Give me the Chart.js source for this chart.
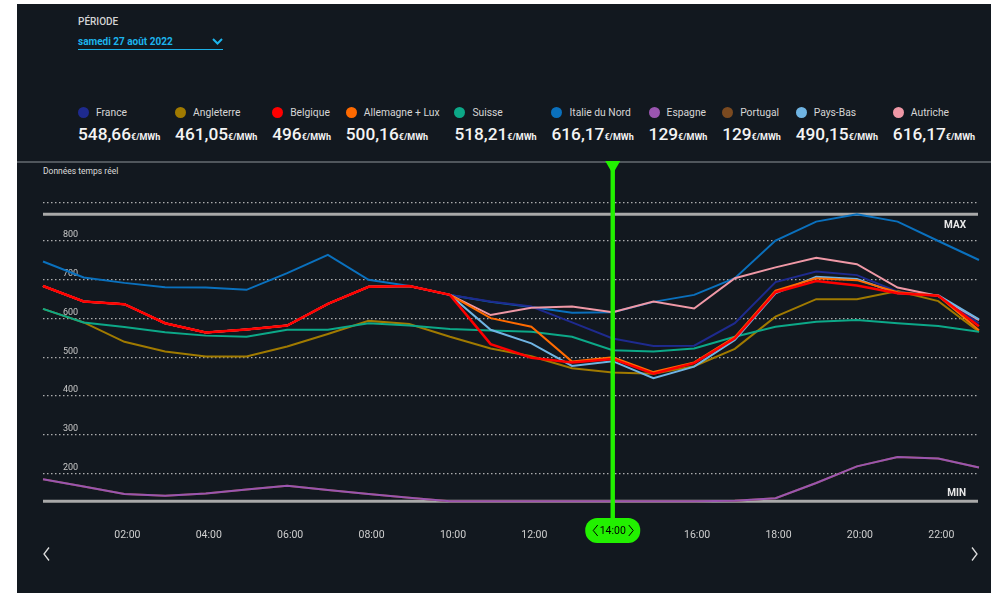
<!DOCTYPE html>
<html>
<head>
<meta charset="utf-8">
<script src="https://cdn.jsdelivr.net/npm/chart.js@4.4.0/dist/chart.umd.min.js"></script>
<style>
  html, body { margin: 0; padding: 0; background: #ffffff; }
  body { width: 991px; height: 593px; position: relative; overflow: hidden; font-family: Roboto, "Noto Sans", sans-serif; }
  #panel { position: absolute; left: 17px; top: 4px; width: 974px; height: 589px; background: #12181f; }
  #periodLabel { position: absolute; left: 78px; top: 16px; font-size: 10px; line-height: 12px; color: #d4d4d4; font-weight: 500; }
  #period { position: absolute; left: 78px; top: 34px; width: 145px; height: 15px; line-height: 15px; font-size: 10px; font-weight: 700; color: #1cb4ec; border-bottom: 1px solid #1cb0e6; }
  #period svg { position: absolute; right: 0px; top: 4px; }
  #legend { position: absolute; left: 78px; top: 104px; display: flex; gap: 14.8px; }
  .item .name { height: 16px; display: flex; align-items: center; font-size: 10.3px; color: #d6d6d6; }
  .item .dot { width: 11px; height: 11px; border-radius: 50%; margin-right: 7px; }
  .item .val { margin-top: 3.5px; white-space: nowrap; color: #f4f4f4; }
  .item .v { font-size: 17.3px; font-weight: 500; line-height: 20px; }
  .item .u { font-size: 9px; font-weight: 700; }
  #sep { position: absolute; left: 17px; top: 161px; width: 974px; height: 1.5px; background: #50565c; }
  #rt { position: absolute; left: 43px; top: 165.5px; font-size: 8.5px; line-height: 10px; color: #dcdcdc; }
  #c { position: absolute; left: 17px; top: 150px; }
  .arrow { position: absolute; }
</style>
</head>
<body>
<div id="panel"></div>
<div id="periodLabel">PÉRIODE</div>
<div id="period">samedi 27 août 2022
  <svg width="11" height="7"><polyline points="1,1 5.5,5.5 10,1" fill="none" stroke="#1cb4ec" stroke-width="2"/></svg>
</div>
<div id="legend"></div>
<div id="sep"></div>
<div id="rt">Données temps réel</div>
<canvas id="c" width="979" height="443"></canvas>
<svg class="arrow" style="left:42px;top:546px" width="10" height="16"><polyline points="7,1.5 2,8 7,14.5" fill="none" stroke="#dddddd" stroke-width="1.3"/></svg>
<svg class="arrow" style="left:970px;top:546px" width="10" height="16"><polyline points="2,1.5 7,8 2,14.5" fill="none" stroke="#dddddd" stroke-width="1.3"/></svg>

<script>
var hours = ['00:00', '01:00', '02:00', '03:00', '04:00', '05:00', '06:00', '07:00', '08:00', '09:00', '10:00', '11:00',
             '12:00', '13:00', '14:00', '15:00', '16:00', '17:00', '18:00', '19:00', '20:00', '21:00', '22:00', '23:00'];
var cursorIndex = 14;

var countries = ['France', 'Angleterre', 'Belgique', 'Allemagne + Lux', 'Suisse', 'Italie du Nord', 'Espagne', 'Portugal', 'Pays-Bas', 'Autriche'];
var colors = ['#1e2a8e', '#a07a00', '#ff0000', '#ff6a00', '#0ca888', '#0a70bd', '#9a55b0', '#7b4a20', '#6fb4e3', '#ef98a6'];

// prix €/MWh, une valeur par heure
var france     = [684, 644, 637, 588, 564, 572, 582, 638, 682, 684, 661, 644, 631, 590, 548.66, 529, 530, 588, 694, 721, 712, 669, 659, 588];
var angleterre = [625, 590, 540, 515, 502, 502, 528, 560, 594, 586, 553, 523, 503, 472, 461.05, 458, 477, 522, 605, 650, 650, 671, 645, 566];
var belgique   = [684, 644, 637, 588, 564, 572, 582, 638, 682, 684, 661, 534, 499, 487, 496, 458, 485, 549, 668, 697, 685, 665, 659, 580];
var allemagne  = [684, 644, 637, 588, 564, 572, 582, 638, 682, 684, 661, 601, 579, 489, 500.16, 462, 487, 552, 672, 704, 699, 668, 659, 570];
var suisse     = [625, 590, 578, 565, 556, 553, 571, 571, 588, 582, 573, 569, 566, 553, 518.21, 515, 523, 553, 579, 592, 596, 588, 581, 566];
var italie     = [747, 706, 692, 681, 680, 674, 717, 764, 700, 684, 661, 643, 630, 615, 616.17, 643, 661, 704, 801, 850, 869, 850, 800, 751];
var espagne    = [186, 167, 148, 143, 149, 159, 169, 158, 148, 138, 129, 129, 129, 129, 129, 129, 129, 130, 137, 176, 219, 243, 239, 216];
var portugal   = [186, 167, 148, 143, 149, 159, 169, 158, 148, 138, 129, 129, 129, 129, 129, 129, 129, 130, 137, 176, 219, 243, 239, 216];
var paysBas    = [684, 644, 637, 588, 564, 572, 582, 638, 682, 684, 661, 571, 536, 478, 490.15, 446, 476, 545, 665, 708, 702, 665, 660, 598];
var autriche   = [684, 644, 637, 588, 564, 572, 582, 638, 682, 684, 661, 609, 628, 631, 616.17, 644, 626, 704, 732, 757, 740, 680, 658, 596];

var allSeries = [france, angleterre, belgique, allemagne, suisse, italie, espagne, portugal, paysBas, autriche];
var drawOrder = [4, 7, 0, 1, 6, 5, 8, 9, 2, 3];

// legende html
var fmt = new Intl.NumberFormat('fr-FR', { maximumFractionDigits: 2 });
var legend = document.getElementById('legend');
countries.forEach(function (name, i) {
    var d = document.createElement('div');
    d.className = 'item';
    d.innerHTML = '<div class="name"><div class="dot" style="background:' + colors[i] + '"></div>' + name + '</div>' +
        '<div class="val"><span class="v">' + fmt.format(allSeries[i][cursorIndex]) + '</span><span class="u">€/MWh</span></div>';
    legend.appendChild(d);
});

var allValues = [].concat.apply([], allSeries);
var maxVal = Math.max.apply(null, allValues);
var minVal = Math.min.apply(null, allValues);

const cursorPlugin = {
    id: 'cursor',
    beforeDatasetsDraw(chart) {
        const ctx = chart.ctx, a = chart.chartArea, y = chart.scales.y;
        ctx.save();
        ctx.strokeStyle = '#a9a9a9';
        ctx.lineWidth = 3;
        [maxVal, minVal].forEach(function (v) {
            const py = y.getPixelForValue(v);
            ctx.beginPath();
            ctx.moveTo(a.left, py);
            ctx.lineTo(a.right - 1, py);
            ctx.stroke();
        });
        ctx.fillStyle = '#e8e8e8';
        ctx.font = 'bold 10px Roboto';
        ctx.textAlign = 'right';
        ctx.textBaseline = 'alphabetic';
        ctx.fillText('MAX', a.right - 13, y.getPixelForValue(maxVal) + 14);
        ctx.fillText('MIN', a.right - 13, y.getPixelForValue(minVal) - 5);
        ctx.restore();
    },
    afterDatasetsDraw(chart) {
        const ctx = chart.ctx;
        const x = chart.scales.x.getPixelForValue(cursorIndex);
        const green = '#22f000';
        const top = 11, pillTop = 368, pillH = 25, pillW = 55;
        ctx.save();
        ctx.fillStyle = green;
        ctx.fillRect(x - 2.2, top, 4.4, pillTop - top);
        ctx.beginPath();
        ctx.moveTo(x - 7.5, top);
        ctx.lineTo(x + 7.5, top);
        ctx.lineTo(x, top + 13);
        ctx.closePath();
        ctx.fill();
        ctx.beginPath();
        ctx.roundRect(x - pillW / 2, pillTop, pillW, pillH, 12);
        ctx.fill();
        const cy = pillTop + pillH / 2;
        ctx.fillStyle = '#000000';
        ctx.font = '10.5px Roboto';
        ctx.textAlign = 'center';
        ctx.textBaseline = 'middle';
        ctx.fillText(hours[cursorIndex], x, cy + 0.5);
        ctx.strokeStyle = '#000000';
        ctx.lineWidth = 1;
        ctx.beginPath();
        ctx.moveTo(x - 15, cy - 5.5); ctx.lineTo(x - 19.5, cy); ctx.lineTo(x - 15, cy + 5.5);
        ctx.moveTo(x + 16, cy - 5.5); ctx.lineTo(x + 20.5, cy); ctx.lineTo(x + 16, cy + 5.5);
        ctx.stroke();
        ctx.restore();
    }
};

const ctx = document.getElementById('c').getContext('2d');
const myChart = new Chart(ctx, {
    type: 'line',
    data: {
        labels: hours,
        datasets: countries.map(function (name, i) {
            return {
                label: name,
                data: allSeries[i],
                borderColor: colors[i],
                backgroundColor: colors[i],
                borderWidth: name === 'Belgique' ? 2.5 : 2,
                pointRadius: 0,
                tension: 0,
                order: drawOrder[i]
            };
        })
    },
    options: {
        responsive: false,
        devicePixelRatio: 1,
        animation: false,
        layout: { padding: { left: 26, right: 6, top: 32.8, bottom: 50.5 } },
        plugins: { legend: { display: false }, tooltip: { enabled: false } },
        scales: {
            x: {
                offset: false,
                grid: { display: false, drawTicks: false },
                border: { display: false },
                afterFit: function (s) { s.height = 30; },
                ticks: {
                    autoSkip: false,
                    maxRotation: 0,
                    padding: 17,
                    labelOffset: 3,
                    color: '#cfcfcf',
                    font: { family: 'Roboto', size: 10.5 },
                    callback: function (val, i) {
                        return (i % 2 === 0 && i > 0 && i !== cursorIndex) ? hours[i] : '';
                    }
                }
            },
            y: {
                min: 100,
                max: 950,
                afterFit: function (s) { s.width = 0; },
                grid: {
                    drawTicks: false,
                    lineWidth: 1.3,
                    color: function (c) {
                        return (c.tick && c.tick.value >= 200 && c.tick.value <= 900) ? 'rgba(200,200,200,0.85)' : 'rgba(0,0,0,0)';
                    }
                },
                border: { display: false, dash: [1.5, 2.5] },
                ticks: {
                    stepSize: 100,
                    mirror: true,
                    padding: 20,
                    labelOffset: -6,
                    color: '#c8c8c8',
                    font: { family: 'Roboto', size: 9 },
                    callback: function (v) {
                        return (v >= 200 && v <= 800) ? String(v) : '';
                    }
                }
            }
        }
    },
    plugins: [cursorPlugin]
});
</script>
</body>
</html>
